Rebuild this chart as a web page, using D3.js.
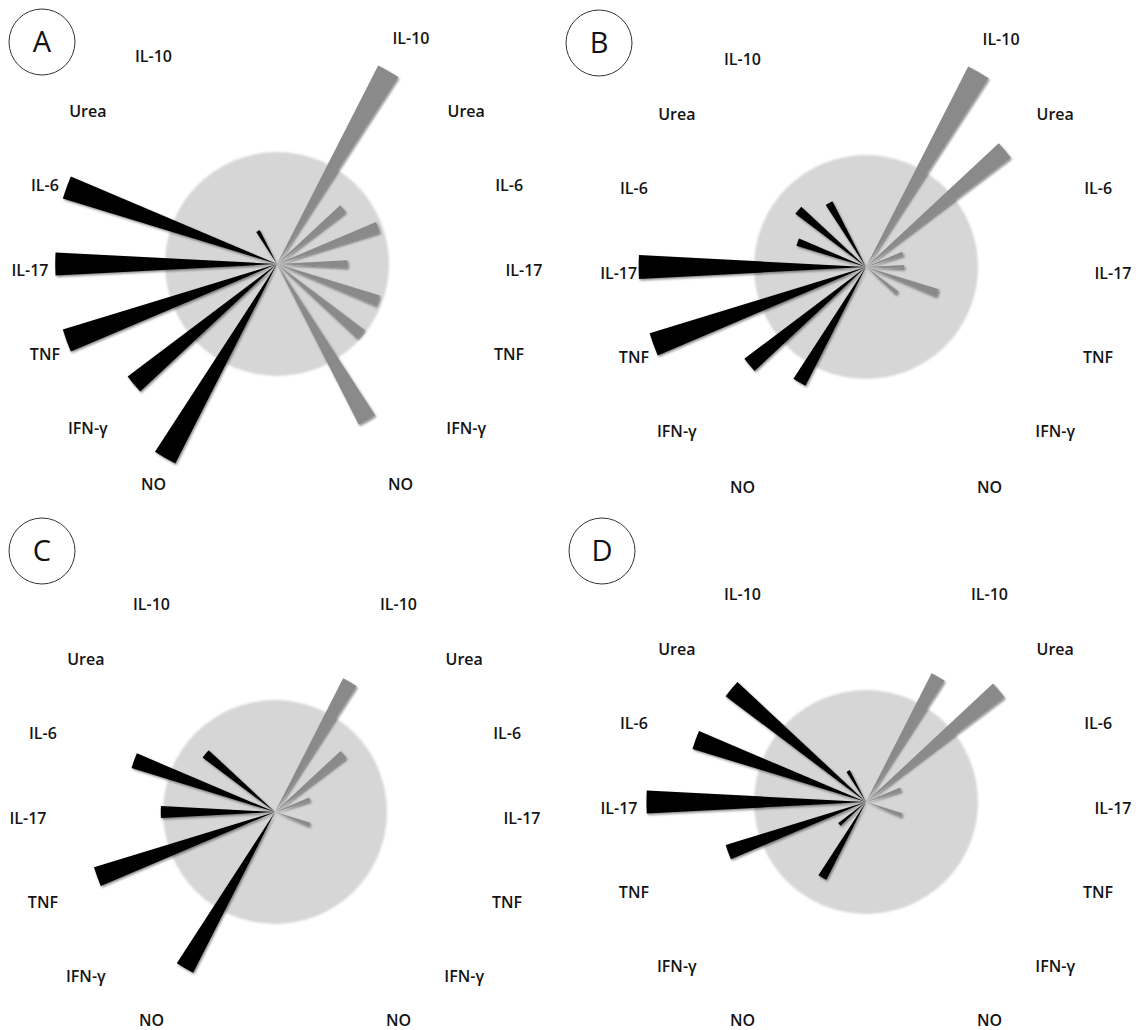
<!DOCTYPE html>
<html>
<head>
<meta charset="utf-8">
<script src="https://cdn.jsdelivr.net/npm/d3@7"></script>
<style>
  html, body { margin: 0; padding: 0; background: #fff; }
  svg { display: block; }
  text { font-family: "Open Sans", "DejaVu Sans", sans-serif; }
</style>
</head>
<body>
<svg id="chart" width="1144" height="1030"></svg>
<script>
// Mediators shown on both halves of every rose
const categories = ["IL-10", "Urea", "IL-6", "IL-17", "TNF", "IFN-γ", "NO"];
const panelNames = ["A", "B", "C", "D"];

// Relative levels (the shaded reference disc = 100)
// left half: black wedges, right half: grey wedges
const leftA  = [34, 0, 200, 198, 200, 167, 200];
const rightA = [199, 77, 96, 63, 96, 98, 161];
const leftB  = [66, 79, 65, 203, 202, 136, 119];
const rightB = [201, 162, 35, 34, 68, 36, 0];
const leftC  = [0, 81, 134, 102, 169, 0, 161];
const rightC = [134, 80, 33, 0, 33, 0, 0];
const leftD  = [32, 157, 162, 196, 131, 31, 78];
const rightD = [129, 155, 33, 0, 34, 0, 0];
const referenceLevel = 100;

// Panel placement (badge = lettered circle, cx/cy = rose centre)
const panels = [
  { name: panelNames[0], left: leftA, right: rightA, badge: [42, 42],   cx: 277, cy: 264 },
  { name: panelNames[1], left: leftB, right: rightB, badge: [599, 43],  cx: 866, cy: 267 },
  { name: panelNames[2], left: leftC, right: rightC, badge: [42, 551],  cx: 275, cy: 812 },
  { name: panelNames[3], left: leftD, right: rightD, badge: [602, 551], cx: 866, cy: 802 }
];

const W = 1144, H = 1030;
const svg = d3.select("#chart");
const defs = svg.append("defs");

const shadow = defs.append("filter").attr("id", "wedgeShadow")
  .attr("x", "-20%").attr("y", "-20%").attr("width", "140%").attr("height", "140%");
shadow.append("feDropShadow")
  .attr("dx", 1.2).attr("dy", 1.6).attr("stdDeviation", 1.3)
  .attr("flood-color", "#000").attr("flood-opacity", 0.45);

const soft = defs.append("filter").attr("id", "discSoft")
  .attr("x", "-10%").attr("y", "-10%").attr("width", "120%").attr("height", "120%");
soft.append("feGaussianBlur").attr("stdDeviation", 1.2);

// Elevation of each mediator above/below the horizontal, in degrees
const elevation = d3.scalePoint().domain(categories).range([60, -60]);
// Radial length
const radius = d3.scaleLinear().domain([0, referenceLevel]).range([0, 112]);

const halfWidth = 3 * Math.PI / 180;   // wedge half opening
const labelRing = 247;
const toRad = d => d * Math.PI / 180;

// d3.arc angle (clockwise from 12 o'clock) for a side and mediator
function angleOf(side, cat) {
  const e = elevation(cat);
  return toRad(side === "left" ? -90 + e : 90 - e);
}

// label sits on the outer ring, or just beyond a wedge that reaches it
function labelRadius(d) {
  const clear = elevation(d.cat) > 45 ? 45 : 20;
  return Math.max(labelRing, radius(d.v) + clear);
}

const arc = d3.arc().innerRadius(0);

panels.forEach(p => {
  // lettered badge
  const b = svg.append("g").attr("transform", `translate(${p.badge[0]},${p.badge[1]})`);
  b.append("circle").attr("r", 33).attr("fill", "none")
    .attr("stroke", "#333").attr("stroke-width", 1);
  b.append("text").attr("text-anchor", "middle").attr("dy", "0.36em")
    .attr("font-size", 29).attr("fill", "#111").text(p.name);

  const g = svg.append("g").attr("transform", `translate(${p.cx},${p.cy})`);

  // reference disc
  g.append("circle").attr("r", radius(referenceLevel))
    .attr("fill", "#d6d6d6").attr("filter", "url(#discSoft)");

  const sides = [
    { side: "left",  values: p.left,  fill: "#000" },
    { side: "right", values: p.right, fill: "#8a8a8a" }
  ];

  sides.forEach(s => {
    const rows = categories.map((c, i) => ({ cat: c, v: s.values[i] }));
    g.append("g").attr("filter", "url(#wedgeShadow)")
      .selectAll("path")
      .data(rows.filter(d => d.v > 0))
      .join("path")
      .attr("fill", s.fill)
      .attr("d", d => {
        const a = angleOf(s.side, d.cat);
        return arc({ outerRadius: radius(d.v), startAngle: a - halfWidth, endAngle: a + halfWidth });
      });

    g.append("g").selectAll("text")
      .data(rows)
      .join("text")
      .attr("text-anchor", "middle")
      .attr("dy", "0.35em")
      .attr("font-size", 16)
      .attr("font-weight", 600)
      .attr("fill", "#141414")
      .attr("x", d => labelRadius(d) * Math.sin(angleOf(s.side, d.cat)))
      .attr("y", d => {
        const y = -labelRadius(d) * Math.cos(angleOf(s.side, d.cat)) + 6;
        // keep the bottom row inside the page
        return Math.min(y, H - 10 - p.cy);
      })
      .text(d => d.cat);
  });
});
</script>
</body>
</html>
